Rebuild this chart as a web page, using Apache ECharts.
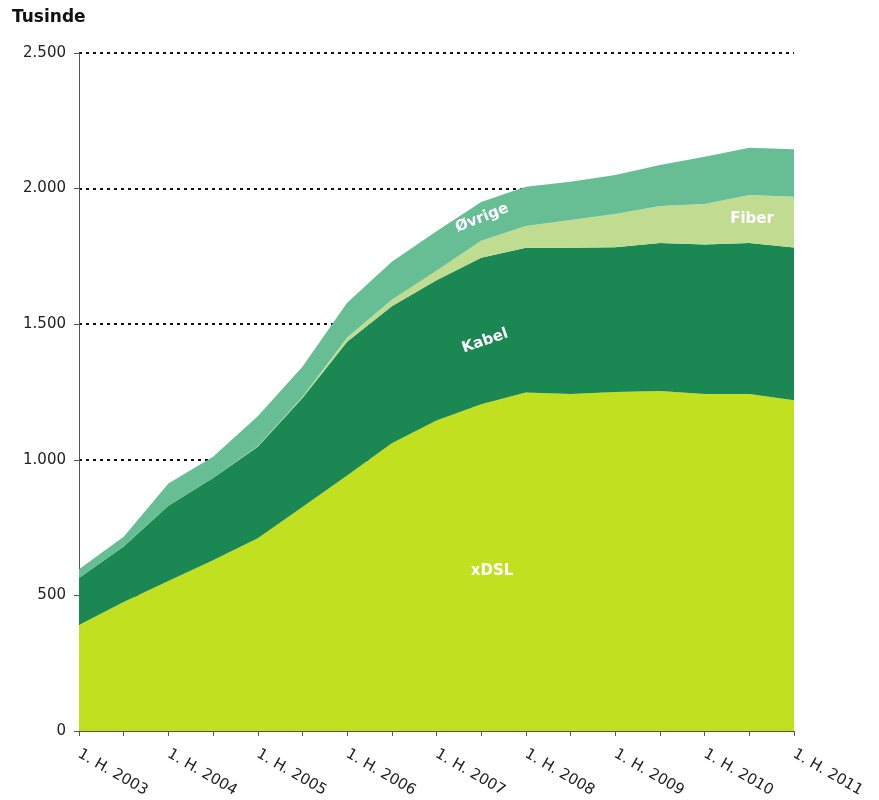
<!DOCTYPE html>
<html>
<head>
<meta charset="utf-8">
<script src="https://cdn.jsdelivr.net/npm/echarts@6/dist/echarts.min.js"></script>
<style>html,body{margin:0;padding:0;background:#fff}#c{width:879px;height:800px}</style>
</head>
<body>
<div id="c"></div>
<script>
var categories = ['1. H. 2003','2. H. 2003','1. H. 2004','2. H. 2004','1. H. 2005','2. H. 2005','1. H. 2006','2. H. 2006','1. H. 2007','2. H. 2007','1. H. 2008','2. H. 2008','1. H. 2009','2. H. 2009','1. H. 2010','2. H. 2010','1. H. 2011'];
var xDSL   = [391, 476, 553, 630, 711, 826, 942, 1061, 1145, 1205, 1248, 1243, 1250, 1254, 1243, 1243, 1220];
var kabel  = [173, 204, 278, 303, 337, 402, 493, 505, 517, 540, 534, 539, 534, 545, 551, 556, 563];
var fiber  = [0, 0, 0, 0, 2, 4, 16, 24, 35, 63, 80, 102, 122, 137, 149, 177, 187];
var ovrige = [32, 36, 82, 78, 111, 111, 128, 140, 146, 143, 145, 141, 144, 151, 174, 175, 175];
var yTicks = [0, 500, 1000, 1500, 2000, 2500];

var font = '"DejaVu Sans", sans-serif';
function areaSeries(name, data, color) {
  return {
    name: name, type: 'line', stack: 'total', data: data,
    symbol: 'none', lineStyle: { width: 0 }, smooth: false,
    areaStyle: { color: color, opacity: 1 }, itemStyle: { color: color }
  };
}
function lbl(text, x, y, rot) {
  return { type: 'text', x: x, y: y, rotation: rot || 0, z: 100, zlevel: 1,
    style: { text: text, font: 'bold 15px ' + font, fill: '#fff', align: 'center', verticalAlign: 'middle' } };
}
var chart = echarts.init(document.getElementById('c'));
chart.setOption({
  animation: false,
  grid: { left: 79, right: 85, top: 53, bottom: 69, containLabel: false, outerBoundsMode: 'none' },
  xAxis: {
    type: 'category', data: categories, boundaryGap: false,
    axisLine: { lineStyle: { color: '#555', width: 1 } },
    axisTick: { show: true, interval: 0, length: 5, lineStyle: { color: '#555' } },
    axisLabel: {
      interval: 1, rotate: -30, fontFamily: font, fontSize: 15, color: '#222', margin: 22
    },
    splitLine: { show: false }
  },
  yAxis: {
    type: 'value', min: 0, max: 2500, interval: 500,
    axisLine: { show: true, lineStyle: { color: '#555', width: 1 } },
    axisTick: { show: true, length: 5, lineStyle: { color: '#555' } },
    axisLabel: {
      fontFamily: font, fontSize: 15, color: '#222', margin: 13,
      formatter: function (v) { return v >= 1000 ? Math.floor(v / 1000) + '.' + String(v % 1000).padStart(3, '0') : String(v); }
    },
    splitLine: { show: true, lineStyle: { color: '#111', width: 2, type: [3, 4] } }
  },
  series: [
    areaSeries('xDSL', xDSL, '#c0e020'),
    areaSeries('Kabel', kabel, '#1b8752'),
    areaSeries('Fiber', fiber, '#c0dc91'),
    areaSeries('Øvrige', ovrige, '#67be95')
  ],
  graphic: [
    { type: 'text', left: 12, top: 9, z: 100, style: { text: 'Tusinde', font: 'bold 17px ' + font, fill: '#111' } },
    lbl('Øvrige', 482, 218, 0.38),
    lbl('Kabel', 485, 341, 0.33),
    lbl('Fiber', 752, 219, 0),
    lbl('xDSL', 492, 571, 0)
  ]
});
</script>
</body>
</html>
